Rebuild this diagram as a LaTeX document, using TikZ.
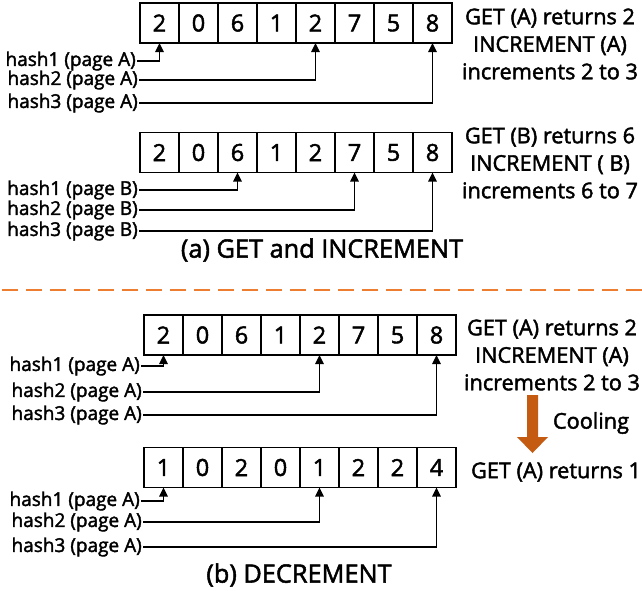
\documentclass[tikz,border=0pt]{standalone}
\usepackage{fontspec}
\setmainfont{Open Sans}[FakeBold=2]
\usetikzlibrary{arrows.meta, positioning}
\definecolor{coolOrange}{RGB}{197, 90, 17}
\definecolor{dashOrange}{RGB}{237, 125, 49}

\begin{document}
\begin{tikzpicture}[
        x=1pt, y=-1pt,
        cell/.style={rectangle, draw=black, line width=1.5pt, minimum width=39pt, minimum height=40pt, inner sep=0pt, outer sep=0pt, font=\fontsize{23.5}{23.5}\selectfont},
        hashlbl/.style={anchor=east, inner sep=1pt, font=\fontsize{19}{19}\selectfont},
        note/.style={align=center, font=\fontsize{21.7}{27.5}\selectfont},
        caption/.style={font=\fontsize{25.3}{26}\selectfont},
        ptr/.style={-{Triangle[length=9pt, width=8.5pt]}, line width=1.4pt}
    ]
        \useasboundingbox (0,0) rectangle (642,590);

        % (a) first array, page A
        \node[cell] (a1) at (159.5,23) {2};
        \node[cell, right=0pt of a1] (a2) {0};
        \node[cell, right=0pt of a2] (a3) {6};
        \node[cell, right=0pt of a3] (a4) {1};
        \node[cell, right=0pt of a4] (a5) {2};
        \node[cell, right=0pt of a5] (a6) {7};
        \node[cell, right=0pt of a6] (a7) {5};
        \node[cell, right=0pt of a7] (a8) {8};

        \node[hashlbl] (ha1) at (137,61) {hash1 (page A)};
        \node[hashlbl] (ha2) at (139,80) {hash2 (page A)};
        \node[hashlbl] (ha3) at (139,103) {hash3 (page A)};
        \draw[ptr] (ha1.east) -| (a1.south);
        \draw[ptr] (ha2.east) -| (a5.south);
        \draw[ptr] (ha3.east) -| (a8.south);

        \node[note] (na) at (550,44) {GET (A) returns 2\\INCREMENT (A)\\increments 2 to 3};

        % (a) second array, page B
        \node[cell] (b1) at (159.5,152.5) {2};
        \node[cell, right=0pt of b1] (b2) {0};
        \node[cell, right=0pt of b2] (b3) {6};
        \node[cell, right=0pt of b3] (b4) {1};
        \node[cell, right=0pt of b4] (b5) {2};
        \node[cell, right=0pt of b5] (b6) {7};
        \node[cell, right=0pt of b6] (b7) {5};
        \node[cell, right=0pt of b7] (b8) {8};

        \node[hashlbl] (hb1) at (139,190) {hash1 (page B)};
        \node[hashlbl] (hb2) at (139,210) {hash2 (page B)};
        \node[hashlbl] (hb3) at (139,231) {hash3 (page B)};
        \draw[ptr] (hb1.east) -| (b3.south);
        \draw[ptr] (hb2.east) -| (b6.south);
        \draw[ptr] (hb3.east) -| (b8.south);

        \node[note] (nb) at (550,163) {GET (B) returns 6\\INCREMENT ( B)\\increments 6 to 7};
        \node[caption] (capa) at (322,250) {(a) GET and INCREMENT};

        % separator
        \draw[dashOrange, line width=1.5pt, dash pattern=on 16pt off 8pt] (2,290) -- (642,290);

        % (b) before cooling
        \node[cell] (c1) at (163.5,335) {2};
        \node[cell, right=0pt of c1] (c2) {0};
        \node[cell, right=0pt of c2] (c3) {6};
        \node[cell, right=0pt of c3] (c4) {1};
        \node[cell, right=0pt of c4] (c5) {2};
        \node[cell, right=0pt of c5] (c6) {7};
        \node[cell, right=0pt of c6] (c7) {5};
        \node[cell, right=0pt of c7] (c8) {8};

        \node[hashlbl] (hc1) at (141,366) {hash1 (page A)};
        \node[hashlbl] (hc2) at (143,392) {hash2 (page A)};
        \node[hashlbl] (hc3) at (143,415) {hash3 (page A)};
        \draw[ptr] (hc1.east) -| (c1.south);
        \draw[ptr] (hc2.east) -| (c5.south);
        \draw[ptr] (hc3.east) -| (c8.south);

        \node[note] (nc) at (552,355) {GET (A) returns 2\\INCREMENT (A)\\increments 2 to 3};

        % cooling arrow
        \fill[coolOrange] (527,395) -- (538,395) -- (538,437) -- (548,437) -- (532.5,453) -- (517,437) -- (527,437) -- cycle;
        \node[font=\fontsize{21.7}{22}\selectfont] (cool) at (591,423) {Cooling};

        % (b) after cooling
        \node[cell] (d1) at (163.5,467.5) {1};
        \node[cell, right=0pt of d1] (d2) {0};
        \node[cell, right=0pt of d2] (d3) {2};
        \node[cell, right=0pt of d3] (d4) {0};
        \node[cell, right=0pt of d4] (d5) {1};
        \node[cell, right=0pt of d5] (d6) {2};
        \node[cell, right=0pt of d6] (d7) {2};
        \node[cell, right=0pt of d7] (d8) {4};

        \node[hashlbl] (hd1) at (141,501) {hash1 (page A)};
        \node[hashlbl] (hd2) at (143,522) {hash2 (page A)};
        \node[hashlbl] (hd3) at (143,547) {hash3 (page A)};
        \draw[ptr] (hd1.east) -| (d1.south);
        \draw[ptr] (hd2.east) -| (d5.south);
        \draw[ptr] (hd3.east) -| (d8.south);

        \node[note] (nd) at (556,472) {GET (A) returns 1};
        \node[caption] (capb) at (299,575) {(b) DECREMENT};
    \end{tikzpicture}
\end{document}
